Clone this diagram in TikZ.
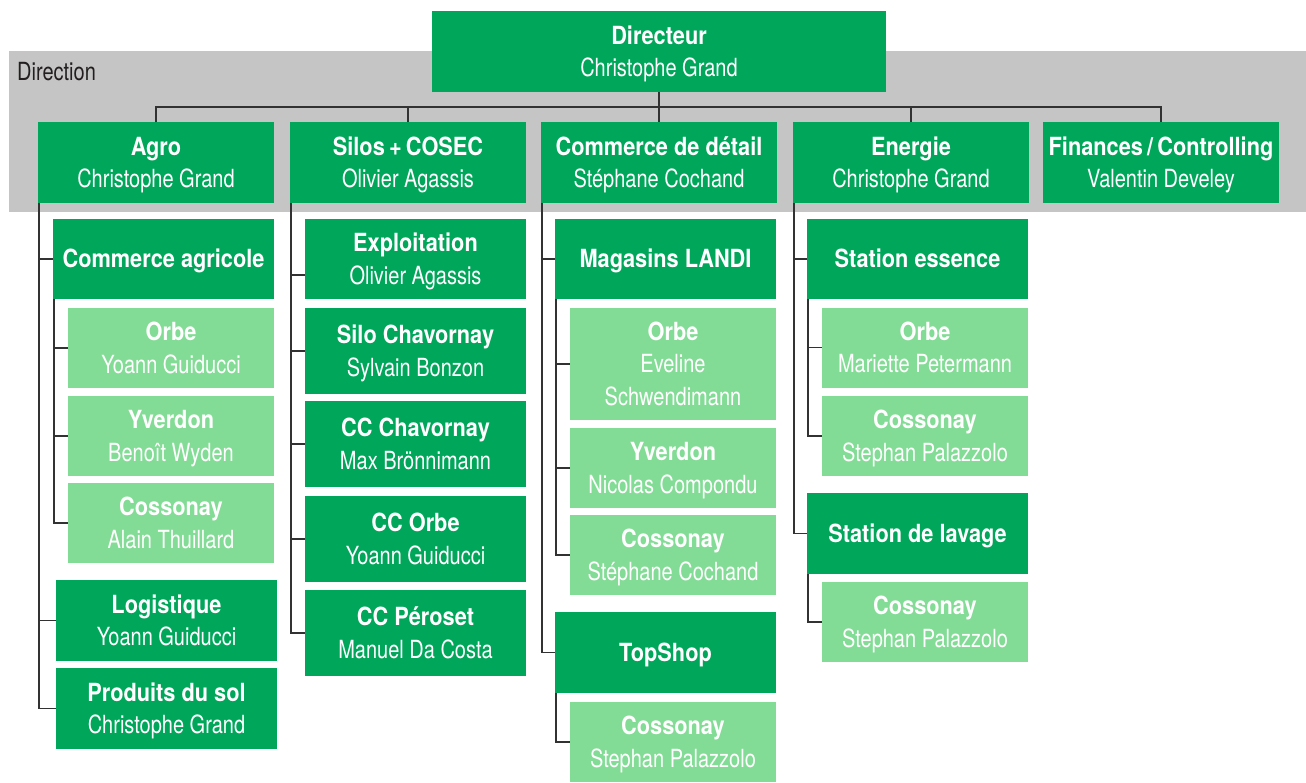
\documentclass[tikz,border=0pt]{standalone}
\usepackage{fontspec}
\setmainfont{TeX Gyre Heros}
\newfontfamily\regf[FakeStretch=0.80]{TeX Gyre Heros}
\newfontfamily\boldf[FakeStretch=0.87]{TeX Gyre Heros}
\definecolor{dkgreen}{RGB}{0,166,90}
\definecolor{ltgreen}{RGB}{131,220,150}
\definecolor{bandgray}{RGB}{196,197,196}
\definecolor{linegray}{RGB}{50,50,50}
\newcommand\ostrut{\rule[-7.5pt]{0pt}{32.5pt}}
\newcommand\orgB[1]{{\boldf\bfseries\ostrut #1}}
\newcommand\orgN[1]{{\regf\ostrut #1}}
\tikzset{
  box/.style={inner sep=0pt, outer sep=0pt, text=white, align=center,
    font=\fontsize{25}{32.5}\selectfont},
  dk/.style={box, fill=dkgreen},
  lt/.style={box, fill=ltgreen},
  wA/.style={minimum width=236pt, minimum height=81pt},
  wB/.style={minimum width=221pt, minimum height=80pt},
  wC/.style={minimum width=206pt, minimum height=80pt},
  ln/.style={draw=linegray, line width=1.6pt},
}
\begin{document}
\begin{tikzpicture}[x=1pt,y=-1pt]
\useasboundingbox (0,0) rectangle (1306,782);
\fill[bandgray] (9,51) rectangle (1306,212);
\node[anchor=base west, inner sep=0pt, text={rgb,255:red,35;green,31;blue,32}, font=\fontsize{25}{32}\selectfont] (dirlbl) at (17,80) {{\regf Direction}};

% top
\node[dk, minimum width=454pt, minimum height=81pt] (dir) at (659,51.5) {\orgB{Directeur}\\\orgN{Christophe Grand}};
% level 1
\node[dk, wA] (agro)  at (156,162.5) {\orgB{Agro}\\\orgN{Christophe Grand}};
\node[dk, wA] (silos) at (408,162.5) {\orgB{Silos\,+\,COSEC}\\\orgN{Olivier Agassis}};
\node[dk, wA] (comm)  at (659,162.5) {\orgB{Commerce de détail}\\\orgN{Stéphane Cochand}};
\node[dk, wA] (ener)  at (911,162.5) {\orgB{Energie}\\\orgN{Christophe Grand}};
\node[dk, wA] (fin)   at (1161,162.5) {\orgB{Finances\,/\,Controlling}\\\orgN{Valentin Develey}};

% Agro
\node[dk, wB] (agri)  at (163.5,259) {\orgB{Commerce agricole}};
\node[lt, wC] (orbeA) at (171,348) {\orgB{Orbe}\\\orgN{Yoann Guiducci}};
\node[lt, wC] (yverA) at (171,436) {\orgB{Yverdon}\\\orgN{Benoît Wyden}};
\node[lt, wC] (cossA) at (171,523) {\orgB{Cossonay}\\\orgN{Alain Thuillard}};
\node[dk, minimum width=221pt, minimum height=81pt] (logi) at (166.5,620.5) {\orgB{Logistique}\\\orgN{Yoann Guiducci}};
\node[dk, minimum width=221pt, minimum height=81pt] (prod) at (166.5,708.5) {\orgB{Produits du sol}\\\orgN{Christophe Grand}};

% Silos
\node[dk, wB] (expl)  at (415.5,259) {\orgB{Exploitation}\\\orgN{Olivier Agassis}};
\node[dk, minimum width=221pt, minimum height=86pt] (siloC) at (415.5,351) {\orgB{Silo Chavornay}\\\orgN{Sylvain Bonzon}};
\node[dk, minimum width=221pt, minimum height=86pt] (ccCh)  at (415.5,444) {\orgB{CC Chavornay}\\\orgN{Max Brönnimann}};
\node[dk, minimum width=221pt, minimum height=86pt] (ccOr)  at (415.5,539) {\orgB{CC Orbe}\\\orgN{Yoann Guiducci}};
\node[dk, minimum width=221pt, minimum height=86pt] (ccPe)  at (415.5,633) {\orgB{CC Péroset}\\\orgN{Manuel Da Costa}};

% Commerce de detail
\node[dk, wB] (maga)  at (665.5,259) {\orgB{Magasins LANDI}};
\node[lt, minimum width=206pt, minimum height=112pt] (orbeC) at (673,364) {\orgB{Orbe}\\\orgN{Eveline}\\\orgN{Schwendimann}};
\node[lt, wC] (yverC) at (673,468) {\orgB{Yverdon}\\\orgN{Nicolas Compondu}};
\node[lt, wC] (cossC) at (673,555) {\orgB{Cossonay}\\\orgN{Stéphane Cochand}};
\node[dk, minimum width=221pt, minimum height=81pt] (top) at (665.5,652.5) {\orgB{TopShop}};
\node[lt, wC] (cossT) at (673,742) {\orgB{Cossonay}\\\orgN{Stephan Palazzolo}};

% Energie
\node[dk, wB] (stat)  at (917.5,259) {\orgB{Station essence}};
\node[lt, wC] (orbeE) at (925,347.5) {\orgB{Orbe}\\\orgN{Mariette Petermann}};
\node[lt, wC] (cossE) at (925,436) {\orgB{Cossonay}\\\orgN{Stephan Palazzolo}};
\node[dk, minimum width=221pt, minimum height=81pt] (lav) at (917.5,533.5) {\orgB{Station de lavage}};
\node[lt, wC] (cossL) at (925,622) {\orgB{Cossonay}\\\orgN{Stephan Palazzolo}};

% connectors top
\coordinate (hbar) at (0,107);
\draw[ln] (agro.north) -- (agro.north |- hbar) -- (fin.north |- hbar) -- (fin.north);
\draw[ln] (silos.north) -- (silos.north |- hbar);
\draw[ln] (ener.north) -- (ener.north |- hbar);
\draw[ln] (dir.south) -- (comm.north);

% Agro connectors
\foreach \c in {agri,logi,prod} \draw[ln] ([xshift=1pt]agro.south west) |- (\c.west);
\foreach \c in {orbeA,yverA,cossA} \draw[ln] ([xshift=1pt]agri.south west) |- (\c.west);

% Silos connectors
\draw[ln] ([xshift=1pt]silos.south west) |- ([yshift=-16pt]expl.west);
\foreach \c in {siloC,ccCh,ccOr,ccPe} \draw[ln] ([xshift=1pt]silos.south west) |- (\c.west);

% Commerce connectors
\foreach \c in {maga,top} \draw[ln] ([xshift=1pt]comm.south west) |- (\c.west);
\foreach \c in {orbeC,yverC,cossC} \draw[ln] ([xshift=1pt]maga.south west) |- (\c.west);
\draw[ln] ([xshift=1pt]top.south west) |- (cossT.west);

% Energie connectors
\foreach \c in {stat,lav} \draw[ln] ([xshift=1pt]ener.south west) |- (\c.west);
\foreach \c in {orbeE,cossE} \draw[ln] ([xshift=1pt]stat.south west) |- (\c.west);
\draw[ln] ([xshift=1pt]lav.south west) |- (cossL.west);
\end{tikzpicture}
\end{document}
